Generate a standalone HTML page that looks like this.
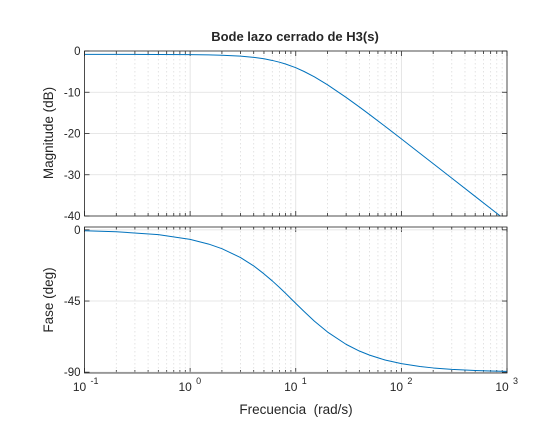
<!DOCTYPE html>
<html><head><meta charset="utf-8"><style>
body{margin:0;background:#fff}
svg text{font-family:"Liberation Sans",sans-serif;fill:#262626}
</style></head><body>
<svg id="c" width="560" height="420" xmlns="http://www.w3.org/2000/svg"></svg>
<script>
const freqs=[0.1,0.2,0.5,1,1.5,2,3,4,5,6,7,8,10,12,15,20,30,40,50,70,100,150,200,300,500,700,1000];
const magDb=[-0.83,-0.83,-0.84,-0.88,-0.94,-1.02,-1.24,-1.54,-1.89,-2.29,-2.71,-3.16,-4.05,-4.97,-6.25,-8.20,-11.25,-13.56,-15.41,-18.24,-21.30,-24.81,-27.30,-30.82,-35.26,-38.18,-41.28];
const phaseDeg=[-0.6,-1.2,-3.0,-6.0,-9.0,-11.9,-17.5,-22.8,-27.8,-32.3,-36.4,-40.1,-46.5,-51.6,-57.7,-64.6,-72.4,-76.6,-79.2,-82.3,-84.6,-86.4,-87.3,-88.2,-88.9,-89.2,-89.5];
const magTicks=[0,-10,-20,-30,-40];
const phaseTicks=[0,-45,-90];
const decTicks=[-1,0,1,2,3];
const NS="http://www.w3.org/2000/svg";
const svg=document.getElementById('c');
function el(t,a,p){const e=document.createElementNS(NS,t);for(const k in a)e.setAttribute(k,a[k]);(p||svg).appendChild(e);return e;}
const X0=84.5,X1=507;
const xs=w=>X0+(Math.log10(w)+1)/4*(X1-X0);
function axes(name,top,bot,ymin,ymax,ticks,data,showX){
  const ys=v=>top+(ymax-v)/(ymax-ymin)*(bot-top);
  const g=el('g',{});
  
  
  el('rect',{x:X0,y:top,width:X1-X0,height:bot-top,fill:'#fff'},g);
  for(let d=-1;d<3;d++)for(let m=2;m<10;m++){const x=xs(m*Math.pow(10,d));
    el('line',{x1:x,x2:x,y1:top,y2:bot,stroke:'#dcdcdc','stroke-dasharray':'1.5,2.5','stroke-width':0.8},g);
    el('line',{x1:x,x2:x,y1:bot,y2:bot-3,stroke:'#262626','stroke-width':0.8},g);
    el('line',{x1:x,x2:x,y1:top,y2:top+3,stroke:'#262626','stroke-width':0.8},g);}
  decTicks.forEach(d=>{const x=xs(Math.pow(10,d));
    el('line',{x1:x,x2:x,y1:top,y2:bot,stroke:'#dfdfdf','stroke-width':0.8},g);
    el('line',{x1:x,x2:x,y1:bot,y2:bot-5,stroke:'#262626','stroke-width':0.8},g);
    el('line',{x1:x,x2:x,y1:top,y2:top+5,stroke:'#262626','stroke-width':0.8},g);
    if(showX){const t=el('text',{x:x-5,y:bot+18,'font-size':12,'text-anchor':'middle'},g);t.textContent='10';
      const s=el('text',{x:x+6,y:bot+11,'font-size':9,'text-anchor':'start'},g);s.textContent=String(d);}});
  ticks.forEach(v=>{const y=ys(v);
    el('line',{x1:X0,x2:X1,y1:y,y2:y,stroke:'#dfdfdf','stroke-width':0.8},g);
    el('line',{x1:X0,x2:X0+5,y1:y,y2:y,stroke:'#262626','stroke-width':0.8},g);
    el('line',{x1:X1,x2:X1-5,y1:y,y2:y,stroke:'#262626','stroke-width':0.8},g);
    const t=el('text',{x:X0-4,y:y+4,'font-size':11.5,'text-anchor':'end'},g);t.textContent=String(v);});
  const cp=el('clipPath',{id:name+'-clip'},g);el('rect',{x:X0,y:top,width:X1-X0,height:bot-top},cp);
  const pts=freqs.map((w,i)=>xs(w).toFixed(2)+','+ys(data[i]).toFixed(2)).join(' ');
  const pl=el('polyline',{points:pts,fill:'none',stroke:'#0072bd','stroke-width':1,'stroke-linejoin':'round','clip-path':'url(#'+name+'-clip)'},g);
  
  
  el('rect',{x:X0,y:top,width:X1-X0,height:bot-top,fill:'none',stroke:'#262626','stroke-width':0.8},g);
}
axes('magnitude-axes',51,216,-40,0,magTicks,magDb,false);
axes('phase-axes',227,373,-90.5,1.8,phaseTicks,phaseDeg,true);
let t=el('text',{x:295,y:41,'font-size':13,'font-weight':'bold','text-anchor':'middle'});t.textContent='Bode lazo cerrado de H3(s)';

t=el('text',{x:0,y:0,'font-size':13.5,'text-anchor':'middle',transform:'translate(53,133) rotate(-90)'});t.textContent='Magnitude (dB)';

t=el('text',{x:0,y:0,'font-size':13.5,'text-anchor':'middle',transform:'translate(53,300) rotate(-90)'});t.textContent='Fase (deg)';

t=el('text',{x:296,y:414,'font-size':13.5,'text-anchor':'middle',style:'white-space:pre'});t.textContent='Frecuencia\u00a0\u00a0(rad/s)';

</script>
</body></html>
